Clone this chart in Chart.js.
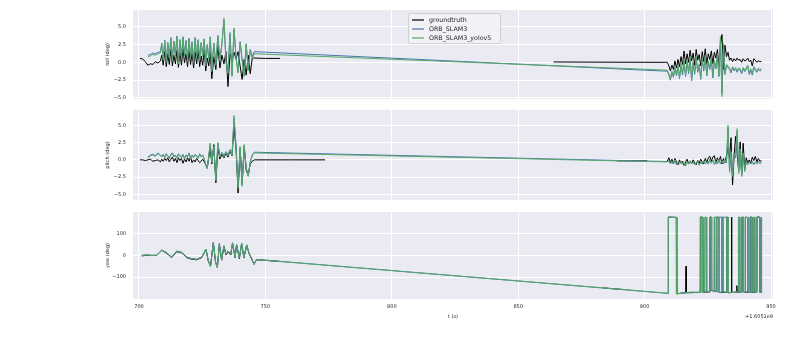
<!DOCTYPE html>
<html><head><meta charset="utf-8">
<script src="https://cdn.jsdelivr.net/npm/chart.js@4.4.0/dist/chart.umd.min.js"></script>
<style>
html,body{margin:0;padding:0;background:#fff;width:800px;height:342px;overflow:hidden;position:relative;}
canvas{position:absolute;left:0;}
</style></head><body>
<canvas id="c1" width="800" height="104" style="top:0"></canvas>
<canvas id="c2" width="800" height="101" style="top:104px"></canvas>
<canvas id="c3" width="800" height="137" style="top:205px"></canvas>
<script>
// ---------- data ----------
const seriesLabels = ['groundtruth', 'ORB_SLAM3', 'ORB_SLAM3_yolov5'];
const xTicks = [700, 750, 800, 850, 900, 950];
const rollTicks = [-5, -2.5, 0, 2.5, 5];
const pitchTicks = [-5, -2.5, 0, 2.5, 5];
const yawTicks = [-100, 0, 100];
const xOffsetText = '+1.6051e9';

// shared time stamps, first active segment (roll & pitch)
const tA = [700.4,701.5,702.5,703.5,704.5,705.5,706.5,707.5,708.5,
709.0,709.6,710.2,710.8,711.4,712.0,712.6,713.2,713.8,714.4,
715.0,715.6,716.2,716.8,717.4,718.0,718.6,719.2,719.8,720.4,
721.0,721.6,722.2,722.8,723.4,724.0,724.6,725.2,725.8,726.4,
727.0,727.6,728.2,728.8,
729.6,730.4,731.2,732.0,732.8,733.6,734.4,735.2,736.0,736.8,
737.6,738.4,739.2,740.0,740.8,741.6,742.4,743.2,744.0,744.8,
745.6];
// second active segment (roll & pitch)
const tB = [909.0,909.6,910.2,910.8,911.4,912.0,912.6,913.2,913.8,914.4,
915.0,915.6,916.2,916.8,917.4,918.0,918.6,919.2,919.8,920.4,
921.0,921.6,922.2,922.8,923.4,924.0,924.6,925.2,925.8,926.4,
927.0,927.6,928.2,928.8,929.4,930.0,930.6,931.2,931.8,932.4,
933.0,933.6,934.2,934.8,935.4,936.0,936.6,937.2,937.8,938.4,
939.0,939.6,940.2,940.8,941.4,942.0,942.6,943.2,943.8,944.4,
945.0,945.6,946.2];

// ---- roll ----
const rollGtA = [0.55,0.45,0.1,-0.4,-0.2,-0.3,0.1,-0.1,0.2,
1.0,-0.4,1.6,-0.6,1.2,-0.3,1.8,-0.5,1.0,-0.2,
1.7,-0.7,1.4,-0.4,1.9,-0.1,1.2,-0.6,1.6,-0.3,
1.3,-0.8,1.5,-0.2,1.7,-0.6,0.9,-0.4,1.8,-1.2,
0.6,-0.5,1.4,-2.3,
0.8,-1.0,2.3,-0.8,1.0,-0.2,1.5,-3.4,1.2,0.2,
1.4,0.5,1.5,-0.5,-2.4,0.4,-1.8,1.0,-1.6,0.6,
0.6];
const rollSlamA = [null,null,null,1.0,1.1,1.3,1.2,1.4,1.5,
2.7,0.5,3.1,0.2,2.8,0.8,3.5,0.4,3.0,1.0,
3.7,0.0,3.2,0.7,3.6,1.1,3.1,0.3,3.4,0.9,
2.9,0.1,3.5,0.8,3.2,0.4,2.8,1.0,3.3,-0.3,
2.5,0.6,3.6,-1.1,
2.7,-0.2,3.7,0.4,2.6,5.9,0.2,-1.3,4.0,-1.8,
4.6,0.7,-1.3,2.9,0.4,-1.8,2.6,-1.0,1.8,0.8,
1.5];
const rollYoloA = [null,null,null,0.8,0.9,1.1,1.0,1.2,1.3,
2.6,0.3,3.0,0.0,2.7,0.6,3.4,0.2,2.9,0.8,
3.6,-0.2,3.1,0.5,3.5,0.9,3.0,0.1,3.3,0.7,
2.8,-0.1,3.4,0.6,3.1,0.2,2.7,0.8,3.2,-0.5,
2.4,0.4,3.5,-1.3,
2.6,-0.4,3.8,0.2,2.5,6.2,0.0,-1.5,4.2,-2.0,
4.8,0.5,-1.5,2.8,0.2,-2.0,2.5,-1.2,1.6,0.5,
1.2];
const rollGtB = [0.0,-0.5,-1.2,-0.4,-1.0,0.2,-0.8,0.4,-0.6,0.8,
-0.3,1.6,-0.2,1.2,0.0,1.7,0.2,1.3,-0.4,1.8,
0.3,1.1,-0.5,1.5,0.1,1.9,-0.3,1.2,0.4,1.6,
-0.2,1.4,0.6,1.8,-0.6,2.4,3.9,-1.0,2.4,0.8,
1.4,0.3,0.6,0.1,0.5,0.2,0.6,0.3,0.4,0.0,
0.5,0.2,0.3,0.6,0.1,0.3,-0.5,0.5,0.3,0.0,
0.2,0.1,0.1];
const rollSlamB = [-1.25,-1.8,-2.5,-1.4,-2.1,-0.8,-1.9,-0.6,-2.3,-0.4,
-1.8,0.2,-2.0,0.1,-1.6,0.6,-2.6,-0.1,-1.7,0.7,
-1.4,-0.4,-2.4,0.4,-1.2,0.8,-1.9,0.0,-1.0,0.5,
-2.2,0.1,-0.9,1.0,-2.0,3.2,-4.3,2.3,-1.7,-0.5,
-0.7,-1.0,-1.5,-0.8,-1.2,-0.9,-1.4,-1.0,-1.1,-1.6,
-0.9,-1.3,-1.0,-0.6,-1.7,-1.1,-1.8,-0.8,-1.1,-1.4,
-1.0,-1.2,-1.1];
const rollYoloB = [-1.1,-1.6,-2.4,-1.2,-2.0,-0.6,-1.8,-0.4,-2.2,-0.2,
-1.6,0.4,-1.9,0.3,-1.4,0.8,-2.5,0.1,-1.5,0.9,
-1.2,-0.2,-2.3,0.6,-1.0,1.0,-1.7,0.2,-0.8,0.7,
-2.1,0.3,-0.7,1.2,-1.9,3.6,-4.8,2.6,-1.6,-0.3,
-0.5,-0.8,-1.3,-0.6,-1.0,-0.7,-1.2,-0.8,-0.9,-1.4,
-0.7,-1.1,-0.8,-0.4,-1.5,-0.9,-1.6,-0.6,-0.9,-1.2,
-0.8,-1.0,-0.9];
// groundtruth pieces between the two active segments
const rollGtMid1T = [750.0, 755.8];
const rollGtMid1 = [0.55, 0.55];
const rollGtMid2T = [864.0, 886.0, 908.4];
const rollGtMid2 = [0.05, 0.02, 0.0];

// ---- pitch ----
const pitchGtA = [0.0,0.0,-0.1,0.0,0.1,-0.2,-0.1,0.0,-0.3,
0.1,-0.2,0.2,-0.1,0.3,-0.3,0.1,0.4,-0.2,0.2,
-0.4,0.3,-0.1,0.2,-0.5,0.1,-0.3,0.3,-0.2,0.4,
-0.4,0.0,-0.3,0.2,-0.1,-0.4,-0.2,0.1,-0.3,-0.7,
-1.1,0.3,1.6,-0.6,
2.2,-3.3,1.8,0.1,0.8,0.3,1.0,0.4,1.3,0.6,
4.8,1.5,-4.8,1.6,-3.4,1.8,-1.5,-2.2,-0.6,-0.2,
0.0];
const pitchSlamA = [null,null,null,0.4,0.7,0.8,0.6,1.0,0.7,
0.5,0.8,0.4,0.9,0.6,0.3,0.8,1.0,0.5,0.7,
0.3,0.9,0.6,0.4,0.8,0.2,0.7,0.5,1.0,0.3,
0.7,0.4,0.8,0.6,0.3,0.9,0.5,0.7,0.2,-0.7,
-1.2,0.7,2.3,-0.3,
1.9,-2.9,2.4,0.5,1.1,0.6,1.2,0.7,1.5,0.8,
6.0,1.9,-3.9,1.8,-3.6,2.1,-1.1,-2.3,-0.3,0.7,
1.1];
const pitchYoloA = [null,null,null,0.3,0.6,0.7,0.5,0.9,0.6,
0.4,0.7,0.3,0.8,0.5,0.2,0.7,0.9,0.4,0.6,
0.2,0.8,0.5,0.3,0.7,0.1,0.6,0.4,0.9,0.2,
0.6,0.3,0.7,0.5,0.2,0.8,0.4,0.6,0.1,-0.8,
-1.3,0.6,2.4,-0.4,
2.0,-3.0,2.5,0.4,1.0,0.5,1.1,0.6,1.4,0.7,
6.4,2.0,-4.1,1.9,-3.8,2.2,-1.2,-2.4,-0.4,0.6,
1.0];
const pitchGtB = [-0.2,0.3,-0.4,0.1,-0.6,0.2,-0.3,-0.7,0.0,-0.5,
-0.2,-0.8,-0.3,0.1,-0.6,-0.2,-0.5,0.0,-0.4,-0.7,
-0.1,-0.5,0.1,-0.3,-0.6,0.2,-0.4,0.3,0.5,-0.2,
0.4,0.6,-0.5,0.3,-0.3,0.5,-0.6,0.2,-0.4,0.6,
1.8,0.2,3.2,-3.6,0.5,3.4,1.0,-1.5,2.6,-2.2,
2.4,-1.4,0.3,-0.4,0.0,-0.5,0.4,-0.1,0.5,-0.3,
0.2,-0.2,-0.1];
const pitchSlamB = [-0.25,-0.2,-0.5,-0.3,-0.6,-0.1,-0.6,-0.4,-0.4,-0.3,
-0.5,-0.5,-0.8,-0.4,-0.6,-0.2,-0.5,-0.4,-0.6,-0.5,
-0.3,-0.7,-0.4,-0.6,-0.2,-0.5,-0.4,-0.6,0.0,-0.5,
-0.1,-0.6,-0.3,-0.6,0.0,-0.5,-0.3,-0.6,-0.1,-0.4,
4.6,-1.6,1.0,-2.2,0.9,0.3,4.1,-1.8,1.4,-2.2,
0.9,-1.5,-0.3,-0.7,-0.4,-0.6,-0.3,-0.7,-0.4,-0.6,
-0.3,-0.5,-0.4];
const pitchYoloB = [-0.3,-0.1,-0.6,-0.2,-0.5,0.0,-0.7,-0.3,-0.5,-0.2,
-0.6,-0.4,-0.9,-0.3,-0.5,-0.1,-0.6,-0.3,-0.7,-0.4,
-0.2,-0.8,-0.3,-0.5,-0.1,-0.6,-0.3,-0.5,0.1,-0.4,
0.0,-0.7,-0.2,-0.5,0.1,-0.6,-0.2,-0.5,0.0,-0.3,
5.0,-1.8,1.2,-2.4,1.0,0.4,4.5,-2.0,1.6,-2.4,
1.0,-1.7,-0.2,-0.6,-0.3,-0.5,-0.2,-0.6,-0.3,-0.5,
-0.2,-0.4,-0.3];
const pitchGtMid1T = [760.0, 773.6];
const pitchGtMid1 = [0.0, 0.0];
const pitchGtMid2T = [889.0, 901.0];
const pitchGtMid2 = [-0.15, -0.15];

// ---- yaw ----
const tYawA = [701.1,703.0,705.0,707.0,709.0,711.0,712.9,714.9,716.9,718.9,
720.8,722.8,724.8,726.5,727.4,728.3,729.4,730.3,731.0,731.8,
732.7,733.6,734.4,735.3,736.3,737.0,738.0,738.6,739.7,740.6,
741.5,742.6,743.5,744.6,745.5,746.5];
const yawGtA = [-2,1,0,0,24,10,-10,18,12,-10,-17,-20,-10,28,-26,-48,58,-33,-54,55,
-22,44,2,18,2,57,-10,50,-15,55,-12,48,10,-18,-40,-20];
const yawSlamA = [1,3,1,2,25,13,-7,21,15,-7,-14,-17,-7,29,-23,-50,60,-29,-56,50,
-19,45,6,21,6,58,-7,51,-11,56,-9,49,13,-14,-41,-18];
const yawYoloA = [0,2,0,1,26,12,-8,20,14,-8,-15,-18,-8,30,-24,-52,62,-30,-58,52,
-20,46,5,20,5,60,-8,52,-12,58,-10,50,12,-15,-42,-19];
const yawGtMid1T = [750.0, 755.8];
const yawGtMid1 = [-22.5, -28.0];
const yawGtMid2T = [883.7, 891.6];
const yawGtMid2 = [-150.5, -158.0];

const tYawGtB = [909.3,909.4,912.6,912.7,916.3,916.4,916.5,922.1,922.2,922.9,
923.0,925.8,925.9,926.4,926.5,928.4,928.5,929.5,929.6,932.4,
932.5,933.0,933.1,934.3,934.4,934.5,936.4,936.5,936.6,938.4,
938.5,939.0,939.1,941.7,941.8,942.3,942.4,944.3,944.4,945.6,
945.7,946.3];
const yawGtB = [-175,178,177,-178,-172,-50,-172,-171,178,178,
-170,-169,178,178,-162,-167,178,177,-171,-170,
178,177,-173,-172,178,-172,-170,-140,-171,-170,
178,178,-169,-171,178,178,-171,-170,178,178,
-172,-171];
const tYawSlamB = [909.3,909.4,912.5,912.6,921.9,922.0,922.7,922.8,923.8,923.9,
924.4,924.5,925.9,926.0,926.3,926.4,927.6,927.7,928.6,928.7,
929.4,929.5,930.5,930.6,931.0,931.1,932.6,932.7,937.1,937.2,
937.5,937.6,938.5,938.6,938.9,939.0,939.8,939.9,940.8,940.9,
941.7,941.8,942.2,942.3,943.1,943.2,943.5,943.6,944.4,944.5,
945.5,945.6,946.2,946.3];
const yawSlamB = [-176,178,177,-177,-171,178,178,-169,-168,178,
177,-166,-169,178,178,-162,-167,178,177,-168,
-171,178,178,-169,-170,178,177,-172,-171,178,
178,-171,-172,178,178,-170,-169,178,177,-169,
-171,178,178,-171,-169,178,177,-171,-170,178,
178,-171,-172,178];
const tYawYoloB = [909.3,909.4,912.6,912.7,916.4,919.0,922.1,922.2,922.9,923.0,
923.8,923.9,924.5,924.6,925.8,925.9,926.4,926.5,927.4,927.5,
927.8,927.9,928.4,928.5,929.5,929.6,930.4,930.5,931.1,931.2,
932.4,932.5,933.0,933.1,934.3,935.8,937.0,937.1,937.6,937.7,
938.3,938.4,939.0,939.1,939.6,939.7,940.9,941.0,941.6,941.7,
942.3,942.4,942.9,943.0,943.6,943.7,944.2,944.3,945.6,945.7,
946.3];
const yawYoloB = [-175,178,176,-178,-172,-170,-172,179,178,-170,
-168,178,177,-165,-170,179,178,-160,-168,178,
179,-170,-166,178,177,-172,-170,179,178,-168,
-170,178,177,-173,-172,-170,-168,178,178,-172,
-171,179,178,-168,-170,178,177,-170,-172,179,
178,-171,-170,178,177,-172,-170,179,178,-172,
-171];

// ---------- helpers ----------
const COLORS = ['#000000', '#4C72B0', '#55A868'];
const BG = '#EAEAF2';
const FONT = 'DejaVu Sans';
const TXT = '#262626';

function pts(t, v) { return t.map((x, i) => ({x: x, y: v[i]})); }
function join(...parts) {
  const out = [];
  parts.forEach((p, i) => { if (i > 0) out.push({x: p[0].x - 0.05, y: null}); out.push(...p); });
  return out;
}
function fmtDec(v) { const s = Math.abs(v).toFixed(1); return (v < 0 ? '\u2212' : '') + s; }
function fmtInt(v) { return (v < 0 ? '\u2212' : '') + Math.abs(v).toFixed(0); }

const bgPlugin = {
  id: 'bg',
  beforeDraw(chart) {
    const a = chart.chartArea, c = chart.ctx;
    c.save(); c.fillStyle = BG; c.fillRect(a.left, a.top, a.right - a.left, a.bottom - a.top); c.restore();
  }
};

const legendPlugin = {
  id: 'legendBox',
  afterDatasetsDraw(chart) {
    const c = chart.ctx;
    c.save();
    c.fillStyle = 'rgba(242,242,247,0.85)';
    c.strokeStyle = '#cfcfcf'; c.lineWidth = 1;
    c.beginPath(); c.roundRect(408.5, 13.5, 92, 30, 2); c.fill(); c.stroke();
    chart.data.datasets.forEach((ds, i) => {
      const y = 20 + i * 9;
      c.strokeStyle = ds.borderColor; c.lineWidth = 1.2;
      c.beginPath(); c.moveTo(412, y); c.lineTo(424, y); c.stroke();
      c.fillStyle = TXT; c.font = '6.3px "' + FONT + '"'; c.textBaseline = 'middle'; c.textAlign = 'left';
      c.fillText(ds.label, 429, y + 0.5);
    });
    c.restore();
  }
};

const offsetPlugin = {
  id: 'offsetText',
  afterDraw(chart) {
    const c = chart.ctx;
    c.save(); c.fillStyle = TXT; c.font = '5px "' + FONT + '"'; c.textAlign = 'right'; c.textBaseline = 'middle';
    c.fillText(xOffsetText, chart.chartArea.right, 316.5 - 205);
    c.restore();
  }
};

function makeChart(id, datasets, yOpts, showX, pad, xHeight) {
  return new Chart(document.getElementById(id), {
    type: 'line',
    data: {datasets: datasets},
    options: {
      responsive: false, animation: false, events: [],
      layout: {padding: pad},
      plugins: {legend: {display: false}, tooltip: {enabled: false}},
      elements: {point: {radius: 0}, line: {borderWidth: 1, tension: 0}},
      spanGaps: false,
      scales: {
        x: {
          type: 'linear', min: 697.63, max: 950.79,
          afterBuildTicks: s => { s.ticks = xTicks.map(v => ({value: v})); },
          afterFit: s => { s.height = xHeight; s.paddingLeft = 0; s.paddingRight = 0; s.paddingTop = 0; s.paddingBottom = 0; },
          grid: {color: '#ffffff', lineWidth: 1, drawTicks: false},
          border: {display: false},
          ticks: {display: showX, color: TXT, font: {family: FONT, size: 5}, padding: 5, maxRotation: 0,
                  callback: v => fmtInt(v)},
          title: {display: showX, text: 't (s)', color: TXT, font: {family: FONT, size: 5},
                  padding: {top: 0, bottom: 22.5}}
        },
        y: {
          type: 'linear', min: yOpts.min, max: yOpts.max,
          afterBuildTicks: s => { s.ticks = yOpts.ticks.map(v => ({value: v})); },
          afterFit: s => { s.width = 33; s.paddingTop = 0; s.paddingBottom = 0; s.paddingLeft = 0; s.paddingRight = 0; },
          grid: {color: '#ffffff', lineWidth: 1, drawTicks: false},
          border: {display: false},
          ticks: {color: TXT, font: {family: FONT, size: 5}, padding: 7, callback: yOpts.fmt},
          title: {display: true, text: yOpts.title, color: TXT, font: {family: FONT, size: 5},
                  padding: {top: 5, bottom: 0}}
        }
      }
    },
    plugins: yOpts.plugins
  });
}

function ds(i, data) {
  return {label: seriesLabels[i], data: data, borderColor: COLORS[i], backgroundColor: COLORS[i],
          borderWidth: 1, pointRadius: 0, fill: false, order: 2 - i};
}

// roll
makeChart('c1', [
  ds(0, join(pts(tA, rollGtA).concat(pts(rollGtMid1T, rollGtMid1)), pts(rollGtMid2T, rollGtMid2).concat(pts(tB, rollGtB)))),
  ds(1, pts(tA, rollSlamA).concat(pts(tB, rollSlamB))),
  ds(2, pts(tA, rollYoloA).concat(pts(tB, rollYoloB)))
], {min: -5.15, max: 7.35, ticks: rollTicks, fmt: fmtDec, title: 'roll (deg)', plugins: [bgPlugin, legendPlugin]},
  false, {left: 100, right: 27, top: 10, bottom: 5}, 0);

// pitch
makeChart('c2', [
  ds(0, join(pts(tA, pitchGtA).concat(pts(pitchGtMid1T, pitchGtMid1)), pts(pitchGtMid2T, pitchGtMid2), pts(tB, pitchGtB))),
  ds(1, pts(tA, pitchSlamA).concat(pts(tB, pitchSlamB))),
  ds(2, pts(tA, pitchYoloA).concat(pts(tB, pitchYoloB)))
], {min: -5.8, max: 7.2, ticks: pitchTicks, fmt: fmtDec, title: 'pitch (deg)', plugins: [bgPlugin]},
  false, {left: 100, right: 27, top: 6, bottom: 5}, 0);

// yaw
makeChart('c3', [
  ds(0, join(pts(tYawA, yawGtA).concat(pts(yawGtMid1T, yawGtMid1)), pts(yawGtMid2T, yawGtMid2), pts(tYawGtB, yawGtB))),
  ds(1, pts(tYawA, yawSlamA).concat(pts(tYawSlamB, yawSlamB))),
  ds(2, pts(tYawA, yawYoloA).concat(pts(tYawYoloB, yawYoloB)))
], {min: -202, max: 202, ticks: yawTicks, fmt: fmtInt, title: 'yaw (deg)', plugins: [bgPlugin, offsetPlugin]},
  true, {left: 100, right: 27, top: 7, bottom: 0}, 43);
</script>
</body></html>
